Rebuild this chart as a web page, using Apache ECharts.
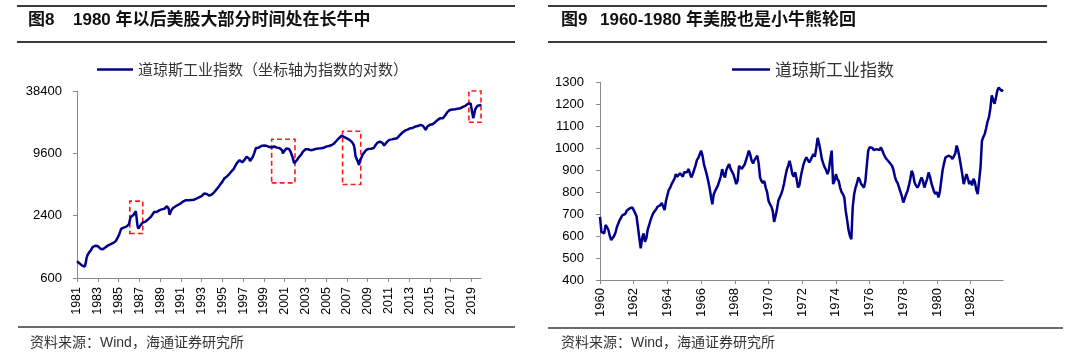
<!DOCTYPE html>
<html>
<head>
<meta charset="utf-8">
<script src="https://cdn.jsdelivr.net/npm/echarts@6/dist/echarts.min.js"></script>
<style>
html,body{margin:0;padding:0;background:#fff;}
#c{width:1080px;height:356px;}
</style>
</head>
<body>
<div id="c"></div>
<script>
// ---- data ----
const leftTitleNo = '图8';
const leftTitle = '1980 年以后美股大部分时间处在长牛中';
const rightTitleNo = '图9';
const rightTitle = '1960-1980 年美股也是小牛熊轮回';
const sourceText = '资料来源：Wind，海通证券研究所';
const leftSeriesName = '道琼斯工业指数（坐标轴为指数的对数）';
const rightSeriesName = '道琼斯工业指数';

const leftStartYear = 1981, leftEndYear = 2019;
const rightStartYear = 1960, rightEndYear = 1983;

// monthly values, 1981-01 .. 2019-12
const djiaLeft = [
870,855,845,830,820,800,790,780,790,775,830,930,
990,1030,1060,1080,1110,1140,1190,1205,1215,1230,1245,1240,
1220,1190,1170,1150,1140,1160,1135,1150,1175,1190,1205,1220,
1240,1265,1250,1275,1290,1300,1310,1335,1340,1370,1410,1470,
1520,1600,1690,1790,1820,1850,1840,1860,1850,1880,1900,1930,
1980,2150,2330,2310,2360,2420,2380,2500,2650,2560,1900,1800,
1850,1920,1960,2000,2060,2080,2050,2100,2130,2160,2200,2240,
2260,2320,2380,2450,2520,2600,2650,2630,2600,2660,2640,2700,
2720,2700,2760,2780,2750,2800,2870,2900,2960,3000,2800,2450,
2550,2700,2750,2850,2900,2930,2960,3000,3020,3060,3100,3140,
3160,3220,3250,3300,3330,3360,3390,3370,3400,3380,3360,3390,
3400,3380,3360,3420,3450,3480,3500,3550,3580,3600,3640,3660,
3700,3760,3850,3930,3960,3900,3880,3800,3780,3740,3720,3760,
3850,3950,4020,4080,4150,4250,4380,4500,4600,4750,4850,4950,
5100,5250,5450,5550,5680,5720,5800,5900,6050,6200,6350,6450,
6500,6750,7000,7250,7500,7750,7950,8100,8250,8150,8000,7850,
7830,8100,8400,8700,8900,9080,8900,8500,8100,7830,8300,8800,
9220,9700,10300,10800,11150,11000,10900,11200,11100,11300,11350,11200,
11400,11300,11200,11350,11000,10900,11100,11300,11000,10900,11100,11200,
11200,11000,11100,10900,10700,10600,10800,11000,10700,10300,9600,9500,
10200,10600,10700,10500,10300,10600,10200,9900,9500,8900,8300,7700,
7700,7900,8200,8400,8700,8900,9080,9300,9600,9900,10100,10300,
10500,10700,10650,10500,10600,10450,10300,10350,10500,10400,10330,10450,
10600,10500,10650,10700,10600,10800,10750,10900,11000,10850,10900,11100,
11150,11050,11200,11300,11250,11400,11500,11550,11700,11900,12200,12400,
12700,12950,13200,13500,13800,14000,14200,14100,13900,13800,13600,13500,
13400,13300,13100,12950,12800,12600,12300,12000,11500,10500,9000,8600,
8200,7900,7400,8200,8400,8800,9300,9580,9800,10100,10300,10500,
10700,10600,10800,10500,10650,10700,10600,10800,11200,11500,11800,12100,
12100,12300,12450,12200,12350,12100,11700,11400,11150,11800,12300,12600,
12800,12950,12700,12900,13100,13000,13200,13300,13100,13400,13450,13700,
14000,14300,14600,14950,15200,15400,15700,15900,16100,16150,16300,16500,
16600,16760,16700,16850,16900,17100,17300,17400,17500,17450,17600,17800,
18000,18100,18050,17900,17700,17400,17000,16200,16800,17400,17800,18000,
18100,18050,18200,18300,18600,18900,19200,19450,19800,20200,20500,20900,
21000,21100,21300,21000,21200,21800,22500,23300,24000,24600,25000,25200,
25300,25800,25500,25700,25900,25600,25800,26100,25900,26000,26200,26100,
26300,26700,27000,27100,27300,27600,28000,28500,28900,29200,28600,29100,
29000,29300,21000,22500,25000,26200,27000,27700,27400,28200,28000,28600
];

// monthly values, 1960-01 .. 1983-12
const djiaRight = [
687,619,615,612,650,640,627,600,582,585,600,615,
640,657,672,680,695,702,700,715,720,725,722,730,
718,705,690,642,590,544,590,612,574,590,630,650,
672,690,705,712,722,733,728,740,750,755,718,760,
785,810,820,836,845,860,881,870,875,885,880,870,
890,897,890,905,900,866,880,900,920,945,955,970,
988,965,927,935,880,851,820,780,744,790,805,800,
830,851,870,904,880,866,900,915,927,905,897,880,
860,836,850,919,912,905,912,925,945,965,988,970,
942,930,945,955,965,930,866,850,840,850,820,800,
760,745,735,714,664,690,720,760,775,790,810,836,
870,900,920,942,915,881,870,890,860,820,830,870,
900,927,945,957,950,935,945,960,973,960,1000,1046,
1020,988,950,930,912,900,881,900,950,988,836,850,
881,860,850,820,800,790,775,714,672,627,600,585,
733,790,820,840,866,855,836,830,820,850,920,988,
1003,995,1000,990,985,995,1000,990,1003,990,973,960,
950,942,935,930,919,900,870,851,840,820,800,780,
752,770,790,805,830,860,897,880,843,830,820,830,
850,866,850,820,840,860,889,870,840,820,800,790,
800,775,800,850,900,930,957,950,965,973,960,950,
942,975,1011,990,957,920,880,836,860,881,860,836,
850,830,860,845,810,790,785,912,1033,1050,1064,1090,
1120,1140,1180,1239,1220,1201,1230,1262,1275,1280,1259,1265
];

const leftYTicks = [600, 2400, 9600, 38400];
const rightYMin = 400, rightYMax = 1300, rightYStep = 100;

// dashed highlight boxes: [fromMonth, toMonth, lowValue, highValue]
const boxFrom = ['1986-02', '1999-10', '2006-08', '2018-10'];
const boxTo   = ['1987-05', '2002-01', '2008-05', '2019-12'];
const boxLow  = [1615, 4980, 4800, 19150];
const boxHigh = [3318, 13150, 15700, 39300];

// ---- build ----
function monthCats(y0, y1) {
  const a = [];
  for (let y = y0; y <= y1; y++) for (let m = 1; m <= 12; m++) a.push(y + '-' + (m < 10 ? '0' : '') + m);
  return a;
}
const catsLeft = monthCats(leftStartYear, leftEndYear);
const catsRight = monthCats(rightStartYear, rightEndYear);

const lineColor = '#00008B';
const axisGray = '#8a8a8a';
const font = '"Liberation Sans", Arial, "Noto Sans CJK SC", sans-serif';
const cjk = '"Noto Sans CJK SC", sans-serif';

const boxes = boxFrom.map((f, i) => [
  { xAxis: f, yAxis: boxLow[i] },
  { xAxis: boxTo[i], yAxis: boxHigh[i] }
]);

function titleItem(text, left, top, size, weight, color, family) {
  return { text, left, top, padding: 0,
    textStyle: { fontSize: size, fontWeight: weight, color, fontFamily: family } };
}

function hline(x1, x2, y, w) {
  return { type: 'line', shape: { x1, y1: y, x2, y2: y }, style: { stroke: '#3a3a3a', lineWidth: w }, silent: true };
}

const plain = v => String(Math.round(v));

const chart = echarts.init(document.getElementById('c'), null, { renderer: 'canvas' });
chart.setOption({
  animation: false,
  backgroundColor: '#fff',
  textStyle: { fontFamily: font },
  title: [
    titleItem(leftTitleNo, 28, 12, 17, 'bold', '#111', font),
    titleItem(leftTitle, 73, 12, 17, 'bold', '#111', font),
    titleItem(rightTitleNo, 561, 12, 17, 'bold', '#111', font),
    titleItem(rightTitle, 600, 12, 17, 'bold', '#111', font),
    titleItem(sourceText, 30, 336, 14, 'normal', '#333', font),
    titleItem(sourceText, 561, 336, 14, 'normal', '#333', font)
  ],
  legend: [
    { data: [leftSeriesName], left: 97, top: 62, padding: 0, icon: 'rect', itemWidth: 36, itemHeight: 2.5,
      itemStyle: { color: lineColor },
      textStyle: { fontSize: 15, color: '#333', fontFamily: cjk } },
    { data: [rightSeriesName], left: 732, top: 61, padding: 0, icon: 'rect', itemWidth: 38, itemHeight: 2.5,
      itemStyle: { color: lineColor },
      textStyle: { fontSize: 17, color: '#333', fontFamily: cjk } }
  ],
  grid: [
    { left: 77, top: 91, width: 404, height: 187 },
    { left: 600, top: 82, width: 403, height: 198 }
  ],
  xAxis: [
    { type: 'category', gridIndex: 0, data: catsLeft, boundaryGap: false,
      axisLine: { lineStyle: { color: axisGray, width: 1 } },
      axisTick: { interval: 23, length: 4, lineStyle: { color: axisGray } },
      axisLabel: { interval: 23, rotate: 90, margin: 9, fontSize: 12.5, color: '#000',
        formatter: v => v.slice(0, 4) },
      splitLine: { show: false } },
    { type: 'category', gridIndex: 1, data: catsRight, boundaryGap: false,
      axisLine: { lineStyle: { color: axisGray, width: 1 } },
      axisTick: { interval: 23, length: 4, lineStyle: { color: axisGray } },
      axisLabel: { interval: 23, rotate: 90, margin: 8, fontSize: 13, color: '#000',
        formatter: v => v.slice(0, 4) },
      splitLine: { show: false } }
  ],
  yAxis: [
    { type: 'log', logBase: 4, gridIndex: 0, min: leftYTicks[0], max: leftYTicks[leftYTicks.length - 1],
      axisLine: { show: true, lineStyle: { color: axisGray, width: 1 } },
      axisTick: { show: true, length: 4, lineStyle: { color: axisGray }, customValues: leftYTicks },
      axisLabel: { margin: 15, fontSize: 13, color: '#000', customValues: leftYTicks, formatter: plain },
      splitLine: { show: false }, minorTick: { show: false } },
    { type: 'value', gridIndex: 1, min: rightYMin, max: rightYMax, interval: rightYStep,
      axisLine: { show: true, lineStyle: { color: axisGray, width: 1 } },
      axisTick: { show: true, length: 4, lineStyle: { color: axisGray } },
      axisLabel: { margin: 16, fontSize: 13, color: '#000', formatter: plain },
      splitLine: { show: false } }
  ],
  series: [
    { type: 'line', name: leftSeriesName, xAxisIndex: 0, yAxisIndex: 0, data: djiaLeft,
      symbol: 'none', lineStyle: { color: lineColor, width: 2.5 }, itemStyle: { color: lineColor },
      markArea: { silent: true, label: { show: false },
        itemStyle: { color: 'rgba(0,0,0,0)', borderColor: '#FF1A1A', borderWidth: 1.6, borderType: [5, 3] },
        data: boxes } },
    { type: 'line', name: rightSeriesName, xAxisIndex: 1, yAxisIndex: 1, data: djiaRight,
      symbol: 'none', lineStyle: { color: lineColor, width: 2.5 }, itemStyle: { color: lineColor } }
  ],
  graphic: [
    hline(17, 515, 6, 2), hline(17, 515, 42, 2), hline(18, 515, 327, 1.5),
    hline(548, 1047, 6, 2), hline(548, 1047, 42, 2), hline(548, 1063, 328, 1.5)
  ]
});
</script>
</body>
</html>
